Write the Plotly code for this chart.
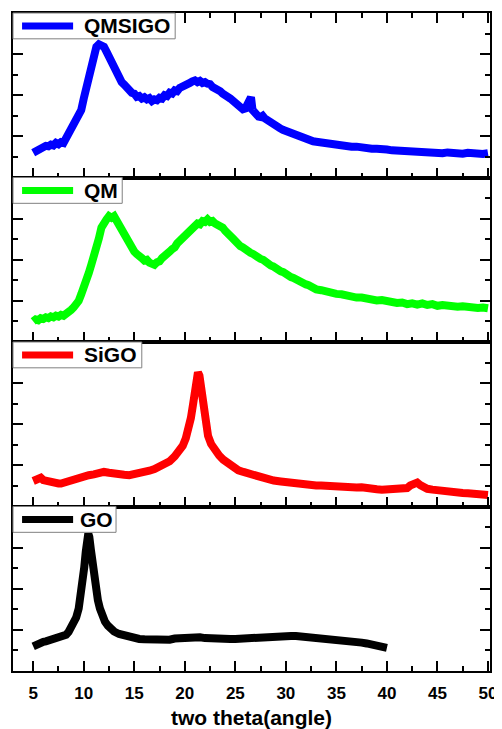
import plotly.graph_objects as go
from plotly.subplots import make_subplots

# ---- data ----
names = ["QMSIGO", "QM", "SiGO", "GO"]
colors = ["#0000FF", "#00FF00", "#FF0000", "#000000"]

qmsigo_x = [5.0, 5.25, 5.5, 5.75, 6.0, 6.25, 6.5, 6.75, 7.0, 7.25, 7.5, 7.75, 8.0, 8.25, 8.5, 8.75, 9.0, 9.25,
            9.5, 9.75, 10.0, 10.25, 10.5, 10.75, 11.0, 11.25, 11.5, 11.75, 12.0, 12.25, 12.5, 12.75, 13.0, 13.25,
            13.5, 13.75, 14.0, 14.25, 14.5, 14.75, 15.0, 15.25, 15.5, 15.75, 16.0, 16.25, 16.5, 16.75, 17.0,
            17.25, 17.5, 17.75, 18.0, 18.25, 18.5, 18.75, 19.0, 19.25, 19.5, 19.75, 20.0, 20.25, 20.5, 20.75,
            21.0, 21.25, 21.5, 21.75, 22.0, 22.25, 22.5, 22.75, 23.0, 23.25, 23.5, 23.75, 24.0, 24.25, 24.5,
            24.75, 25.0, 25.25, 25.5, 25.75, 26.0, 26.2, 26.4, 26.55, 26.7, 26.9, 27.1, 27.3, 27.5, 27.7, 27.9,
            28.2, 28.5, 28.8, 29.1, 29.4, 29.7, 30.0, 30.3, 30.6, 30.9, 31.2, 31.5, 31.8, 32.1, 32.4, 32.7, 33.0,
            33.5, 34.0, 34.5, 35.0, 35.5, 36.0, 36.5, 37.0, 37.5, 38.0, 38.5, 39.0, 39.5, 40.0, 40.5, 41.0, 41.5,
            42.0, 42.5, 43.0, 43.5, 44.0, 44.5, 45.0, 45.5, 46.0, 46.5, 47.0, 47.5, 48.0, 48.5, 49.0, 49.5, 50.0]
qmsigo_y = [0.60, 0.64, 0.66, 0.71, 0.72, 0.77, 0.76, 0.80, 0.78, 0.84, 0.81, 0.86, 0.84, 0.95, 1.06, 1.22, 1.28,
            1.40, 1.46, 1.64, 1.92, 2.22, 2.52, 2.80, 3.02, 3.18, 3.24, 3.20, 3.18, 3.06, 2.92, 2.80, 2.64, 2.52,
            2.44, 2.32, 2.26, 2.18, 2.14, 2.06, 2.04, 1.96, 1.98, 1.92, 1.95, 1.90, 1.93, 1.86, 1.90, 1.88, 1.94,
            1.92, 2.00, 1.98, 2.06, 2.04, 2.12, 2.10, 2.18, 2.20, 2.24, 2.28, 2.30, 2.34, 2.36, 2.32, 2.35, 2.30,
            2.32, 2.28, 2.27, 2.20, 2.18, 2.12, 2.10, 2.04, 2.02, 1.96, 1.92, 1.86, 1.82, 1.76, 1.72, 1.66, 1.68,
            1.78, 1.92, 1.95, 1.64, 1.56, 1.54, 1.48, 1.47, 1.50, 1.44, 1.38, 1.33, 1.28, 1.24, 1.20, 1.16, 1.13,
            1.09, 1.06, 1.02, 1.01, 0.97, 0.96, 0.93, 0.92, 0.88, 0.87, 0.85, 0.82, 0.81, 0.80, 0.78, 0.78, 0.75,
            0.75, 0.72, 0.72, 0.70, 0.70, 0.67, 0.68, 0.66, 0.65, 0.64, 0.64, 0.62, 0.63, 0.61, 0.63, 0.60, 0.61,
            0.59, 0.61, 0.59, 0.60, 0.58, 0.60, 0.58, 0.59, 0.57, 0.59]

qm_x = [5.0, 5.25, 5.5, 5.75, 6.0, 6.25, 6.5, 6.75, 7.0, 7.25, 7.5, 7.75, 8.0, 8.25, 8.5, 8.75, 9.0, 9.25, 9.5,
        9.75, 10.0, 10.25, 10.5, 10.75, 11.0, 11.25, 11.5, 11.75, 12.0, 12.25, 12.5, 12.75, 13.0, 13.25, 13.5,
        13.75, 14.0, 14.25, 14.5, 14.75, 15.0, 15.25, 15.5, 15.75, 16.0, 16.25, 16.5, 16.75, 17.0, 17.25, 17.5,
        17.75, 18.0, 18.25, 18.5, 18.75, 19.0, 19.25, 19.5, 19.75, 20.0, 20.25, 20.5, 20.75, 21.0, 21.25, 21.5,
        21.75, 22.0, 22.25, 22.5, 22.75, 23.0, 23.25, 23.5, 23.75, 24.0, 24.25, 24.5, 24.75, 25.0, 25.25, 25.5,
        25.75, 26.0, 26.25, 26.5, 26.75, 27.0, 27.25, 27.5, 27.75, 28.0, 28.25, 28.5, 28.75, 29.0, 29.25, 29.5,
        29.75, 30.0, 30.25, 30.5, 30.75, 31.0, 31.25, 31.5, 31.75, 32.0, 32.25, 32.5, 32.75, 33.0, 33.5, 34.0,
        34.5, 35.0, 35.5, 36.0, 36.5, 37.0, 37.5, 38.0, 38.5, 39.0, 39.5, 40.0, 40.5, 41.0, 41.5, 42.0, 42.5,
        43.0, 43.5, 44.0, 44.5, 45.0, 45.5, 46.0, 46.5, 47.0, 47.5, 48.0, 48.5, 49.0, 49.5, 50.0]
qm_y = [0.50, 0.55, 0.53, 0.58, 0.56, 0.60, 0.58, 0.62, 0.60, 0.64, 0.62, 0.66, 0.64, 0.68, 0.70, 0.78, 0.84,
        0.92, 1.00, 1.16, 1.30, 1.50, 1.68, 1.88, 2.06, 2.28, 2.52, 2.78, 2.94, 2.98, 3.06, 3.02, 3.06, 2.94,
        2.86, 2.72, 2.62, 2.50, 2.38, 2.30, 2.20, 2.14, 2.06, 2.04, 1.98, 2.00, 1.93, 1.92, 1.88, 1.94, 1.96,
        2.04, 2.08, 2.16, 2.20, 2.26, 2.30, 2.40, 2.46, 2.52, 2.58, 2.66, 2.72, 2.78, 2.82, 2.88, 2.86, 2.94,
        2.92, 2.98, 2.92, 2.94, 2.88, 2.86, 2.80, 2.78, 2.70, 2.66, 2.58, 2.52, 2.44, 2.40, 2.33, 2.30, 2.24,
        2.22, 2.17, 2.14, 2.08, 2.08, 2.02, 2.00, 1.94, 1.92, 1.86, 1.84, 1.78, 1.76, 1.72, 1.70, 1.64, 1.62,
        1.58, 1.56, 1.52, 1.49, 1.46, 1.44, 1.40, 1.38, 1.34, 1.32, 1.28, 1.26, 1.22, 1.22, 1.17, 1.16, 1.12,
        1.12, 1.08, 1.08, 1.04, 1.05, 1.01, 1.02, 0.98, 0.98, 0.95, 0.96, 0.92, 0.94, 0.91, 0.94, 0.90, 0.92,
        0.88, 0.90, 0.87, 0.89, 0.86, 0.87, 0.84, 0.86, 0.83, 0.84, 0.82]

sigo_x = [5.0, 5.25, 5.5, 5.75, 6.0, 6.25, 6.5, 6.75, 7.0, 7.25, 7.5, 7.75, 8.0, 8.25, 8.5, 8.75, 9.0, 9.5, 10.0,
          10.5, 11.0, 11.5, 12.0, 12.5, 13.0, 13.5, 14.0, 14.5, 15.0, 15.5, 16.0, 16.5, 17.0, 17.5, 18.0, 18.5,
          19.0, 19.5, 19.8, 20.1, 20.4, 20.6, 20.8, 21.0, 21.15, 21.3, 21.45, 21.6, 21.75, 21.9, 22.1, 22.3,
          22.6, 23.0, 23.4, 23.8, 24.3, 24.8, 25.3, 25.8, 26.3, 26.8, 27.3, 27.8, 28.3, 28.8, 29.5, 30.0, 30.5,
          31.0, 31.5, 32.0, 32.5, 33.0, 33.5, 34.0, 34.5, 35.0, 35.5, 36.0, 36.5, 37.0, 37.5, 38.0, 38.5, 39.0,
          39.5, 40.0, 40.5, 41.0, 41.5, 42.0, 42.3, 42.6, 42.8, 43.0, 43.3, 43.6, 44.0, 44.5, 45.0, 45.5, 46.0,
          46.5, 47.0, 47.5, 48.0, 48.5, 49.0, 49.5, 50.0]
sigo_y = [0.62, 0.66, 0.68, 0.70, 0.64, 0.62, 0.60, 0.61, 0.58, 0.57, 0.56, 0.56, 0.58, 0.60, 0.62, 0.66, 0.67,
          0.70, 0.73, 0.76, 0.78, 0.81, 0.84, 0.82, 0.79, 0.76, 0.77, 0.76, 0.78, 0.80, 0.83, 0.87, 0.91, 0.96,
          1.02, 1.10, 1.22, 1.36, 1.48, 1.66, 1.90, 2.15, 2.46, 2.85, 3.12, 3.26, 3.18, 2.92, 2.58, 2.28, 1.96,
          1.72, 1.52, 1.36, 1.24, 1.14, 1.04, 0.96, 0.88, 0.84, 0.80, 0.76, 0.71, 0.68, 0.65, 0.63, 0.61, 0.59,
          0.58, 0.56, 0.55, 0.54, 0.53, 0.51, 0.51, 0.50, 0.48, 0.48, 0.47, 0.46, 0.47, 0.46, 0.47, 0.44, 0.43,
          0.42, 0.41, 0.42, 0.40, 0.40, 0.41, 0.45, 0.51, 0.56, 0.60, 0.58, 0.52, 0.47, 0.43, 0.41, 0.39, 0.38,
          0.37, 0.35, 0.34, 0.33, 0.32, 0.31, 0.30, 0.29, 0.28]

go_x = [5.0, 5.25, 5.5, 5.75, 6.0, 6.25, 6.5, 6.75, 7.0, 7.25, 7.5, 7.75, 8.0, 8.25, 8.5, 8.75, 9.0, 9.25, 9.5,
        9.7, 9.9, 10.05, 10.2, 10.35, 10.45, 10.55, 10.7, 10.85, 11.0, 11.2, 11.4, 11.6, 11.85, 12.1, 12.4,
        12.7, 13.0, 13.5, 14.0, 14.5, 15.0, 15.5, 16.0, 16.5, 17.0, 17.5, 18.0, 18.5, 19.0, 19.5, 20.0, 20.5,
        21.0, 21.5, 22.0, 22.5, 23.0, 23.5, 24.0, 24.5, 25.0, 25.5, 26.0, 26.5, 27.0, 27.5, 28.0, 28.5, 29.0,
        29.5, 30.0, 30.5, 31.0, 31.5, 32.0, 32.5, 33.0, 33.5, 34.0, 34.5, 35.0, 35.5, 36.0, 36.5, 37.0, 37.5,
        38.0, 38.5, 39.0, 39.5, 40.0]
go_y = [0.60, 0.64, 0.67, 0.69, 0.71, 0.72, 0.74, 0.75, 0.76, 0.77, 0.78, 0.80, 0.84, 0.88, 0.95, 1.04, 1.14,
        1.30, 1.52, 1.80, 2.18, 2.52, 2.90, 3.22, 3.34, 3.26, 2.96, 2.62, 2.30, 1.98, 1.72, 1.52, 1.34, 1.20,
        1.10, 1.02, 0.96, 0.90, 0.86, 0.82, 0.80, 0.78, 0.77, 0.76, 0.76, 0.75, 0.77, 0.76, 0.79, 0.80, 0.82,
        0.84, 0.83, 0.82, 0.80, 0.79, 0.77, 0.78, 0.77, 0.78, 0.78, 0.79, 0.80, 0.80, 0.81, 0.82, 0.83, 0.83,
        0.84, 0.85, 0.85, 0.85, 0.85, 0.84, 0.84, 0.83, 0.82, 0.81, 0.80, 0.78, 0.77, 0.76, 0.74, 0.73, 0.71,
        0.69, 0.67, 0.65, 0.62, 0.59, 0.56]

x_tick_vals = [5, 10, 15, 20, 25, 30, 35, 40, 45, 50]
x_title = "two theta(angle)"

series_x = [qmsigo_x, qm_x, sigo_x, go_x]
series_y = [qmsigo_y, qm_y, sigo_y, go_y]

FONT = "Liberation Sans, Arial, sans-serif"

fig = make_subplots(rows=4, cols=1, shared_xaxes=True, vertical_spacing=0)

for i in range(4):
    fig.add_trace(go.Scatter(x=series_x[i], y=series_y[i], mode="lines", name=names[i],
                             line=dict(color=colors[i], width=8), showlegend=False),
                  row=i + 1, col=1)

# legend-like boxes (box, line sample, label) in each panel's domain coordinates
box_right = [0.340, 0.229, 0.270, 0.216]
text_left = [0.145, 0.145, 0.145, 0.136]
shapes = []
annotations = []
for i in range(4):
    n = "" if i == 0 else str(i + 1)
    xr, yr = "x%s domain" % n, "y%s domain" % n
    shapes.append(dict(type="rect", xref=xr, yref=yr, x0=0, x1=box_right[i], y0=0.843, y1=1.0,
                       line=dict(color="#808080", width=1), fillcolor="white", layer="above"))
    shapes.append(dict(type="line", xref=xr, yref=yr, x0=0.019, x1=0.126, y0=0.921, y1=0.921,
                       line=dict(color=colors[i], width=7), layer="above"))
    annotations.append(dict(xref=xr, yref=yr, x=text_left[i], y=0.921, xanchor="left", yanchor="middle",
                            text="<b>%s</b>" % names[i], showarrow=False,
                            font=dict(family=FONT, size=21, color="black")))

fig.update_layout(width=494, height=721, margin=dict(l=5, r=12, t=3, b=54),
                  plot_bgcolor="white", paper_bgcolor="white", showlegend=False,
                  font=dict(family=FONT, color="black"), shapes=shapes, annotations=annotations)

for i in range(4):
    fig.update_xaxes(row=i + 1, col=1, range=[3, 50.2], tickvals=x_tick_vals, ticks="inside",
                     ticklen=10, tickwidth=2, tickcolor="black",
                     minor=dict(dtick=2.5, tick0=0, ticklen=5, tickwidth=2, tickcolor="black", ticks="inside"),
                     showline=True, linecolor="black", linewidth=2,
                     mirror="allticks" if i == 0 else True,
                     showgrid=False, zeroline=False,
                     showticklabels=(i == 3), ticklabelstandoff=6,
                     tickfont=dict(family=FONT, size=17, weight="bold", color="black"))
    fig.update_yaxes(row=i + 1, col=1, range=[0, 4], dtick=1, tick0=0, ticks="inside",
                     ticklen=10, tickwidth=2, tickcolor="black",
                     minor=dict(dtick=0.5, tick0=0, ticklen=5, tickwidth=2, tickcolor="black", ticks="inside"),
                     showline=True, linecolor="black", linewidth=2, mirror="allticks",
                     showgrid=False, zeroline=False, showticklabels=False)

fig.update_xaxes(row=4, col=1, title=dict(text=x_title, standoff=8,
                 font=dict(family=FONT, size=21, weight="bold", color="black")))

fig.write_html("out.html")
